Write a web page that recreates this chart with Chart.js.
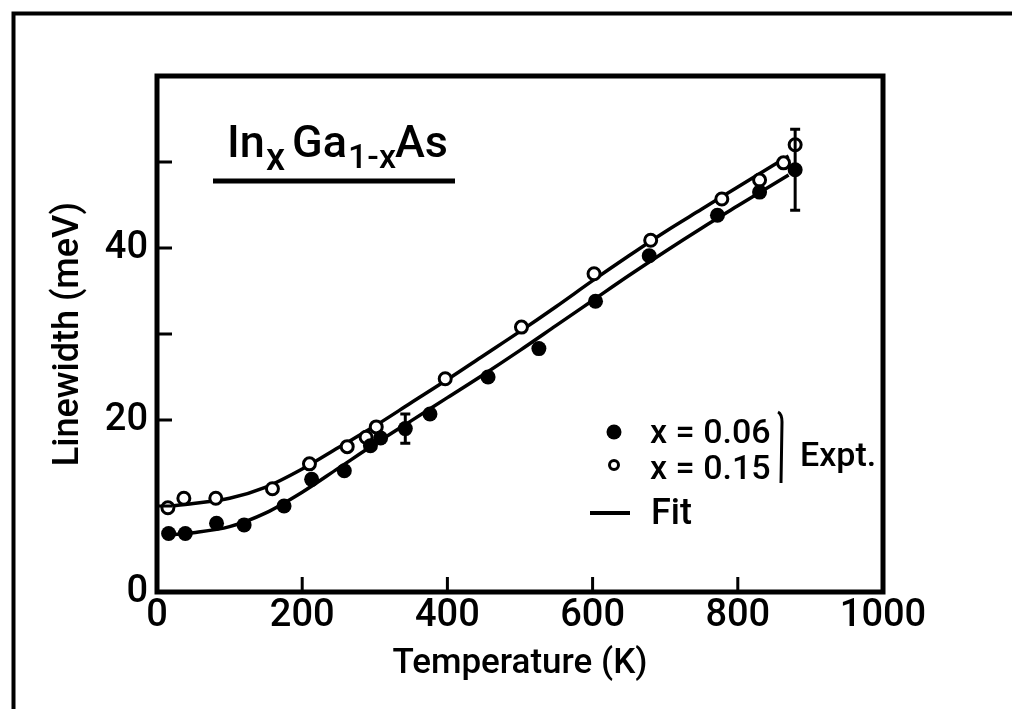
<!DOCTYPE html>
<html>
<head>
<meta charset="utf-8">
<script src="https://cdn.jsdelivr.net/npm/chart.js@4.4.1/dist/chart.umd.min.js"></script>
<style>
  html, body { margin: 0; padding: 0; background: #fff; }
  canvas { display: block; }
</style>
</head>
<body>
<canvas id="linewidth" width="1012" height="709"></canvas>
<script>
const FONT = 'Roboto, "Liberation Sans", sans-serif';

// measured linewidth, x = 0.06 (filled circles)
const tempLow = [16, 39, 82, 120, 175, 213, 258, 294, 308, 342, 376, 456, 526, 604, 678, 772, 830, 879];
const widthLow = [6.8, 6.8, 8.0, 7.8, 10.0, 13.1, 14.1, 17.0, 17.9, 19.0, 20.7, 25.0, 28.3, 33.8, 39.1, 43.8, 46.5, 49.1];

// measured linewidth, x = 0.15 (open circles)
const tempHigh = [15, 37, 81, 159, 210, 262, 288, 302, 397, 502, 602, 680, 778, 830, 863, 879];
const widthHigh = [9.8, 10.9, 10.9, 12.0, 14.9, 16.9, 18.0, 19.2, 24.8, 30.8, 37.0, 40.9, 45.7, 47.9, 49.9, 52.0];

// fitted curves
const fitTemp = [10, 50, 100, 150, 200, 250, 300, 350, 400, 450, 500, 550, 600, 650, 700, 750, 800, 870];
const fitLow = [6.6, 6.9, 7.6, 9.2, 11.6, 14.4, 17.2, 19.9, 22.6, 25.3, 28.1, 31.0, 33.9, 36.8, 39.6, 42.3, 44.9, 48.5];
const fitHigh = [9.9, 10.3, 10.9, 12.2, 14.3, 16.8, 19.3, 22.0, 24.7, 27.5, 30.3, 33.2, 36.2, 39.1, 41.9, 44.5, 47.1, 50.7];

// error bars on two of the x = 0.06 points
const errTemp = [342, 879];
const errLow = [17.3, 44.4];
const errHigh = [20.7, 53.8];

// axis labels
const xLabels = [0, 200, 400, 600, 800, 1000];
const yLabels = [0, 20, 40];

const pts = (xs, ys) => xs.map((t, i) => ({ x: t, y: ys[i] }));

function font(size) {
  return '500 ' + size + 'px ' + FONT;
}

const decorations = {
  id: 'decorations',
  afterDatasetsDraw(chart) {
    const { ctx, chartArea: a, scales: { x, y } } = chart;
    ctx.save();
    ctx.strokeStyle = '#000';
    ctx.lineCap = 'butt';

    // error bars
    ctx.lineWidth = 3;
    errTemp.forEach((t, i) => {
      const px = x.getPixelForValue(t);
      const lo = y.getPixelForValue(errLow[i]);
      const hi = y.getPixelForValue(errHigh[i]);
      ctx.beginPath();
      ctx.moveTo(px, lo); ctx.lineTo(px, hi);
      ctx.moveTo(px - 5, lo); ctx.lineTo(px + 5, lo);
      ctx.moveTo(px - 5, hi); ctx.lineTo(px + 5, hi);
      ctx.stroke();
    });

    // inward tick marks
    ctx.lineWidth = 3;
    ctx.beginPath();
    x.ticks.forEach(t => {
      if (t.value <= x.min || t.value >= x.max) return;
      const px = x.getPixelForValue(t.value);
      ctx.moveTo(px, a.bottom); ctx.lineTo(px, a.bottom - 15);
    });
    y.ticks.forEach(t => {
      if (t.value <= y.min || t.value >= y.max) return;
      const py = y.getPixelForValue(t.value);
      ctx.moveTo(a.left, py); ctx.lineTo(a.left + 15, py);
    });
    ctx.stroke();

    // plot box
    ctx.lineWidth = 5;
    ctx.strokeRect(a.left, a.top, a.right - a.left, a.bottom - a.top);
    ctx.restore();
  },
  afterDraw(chart) {
    const { ctx } = chart;
    ctx.save();
    ctx.fillStyle = '#000';
    ctx.strokeStyle = '#000';
    ctx.textBaseline = 'alphabetic';
    ctx.textAlign = 'left';

    // outer frame (top and left edges)
    ctx.lineWidth = 4;
    ctx.beginPath();
    ctx.moveTo(1012, 13.5); ctx.lineTo(13.5, 13.5); ctx.lineTo(13.5, 709);
    ctx.stroke();

    // compound name with subscripts
    const parts = [
      { text: 'In', x: 227, base: 157, size: 45 },
      { text: 'x', x: 266, base: 170, size: 38 },
      { text: 'Ga', x: 292, base: 157, size: 45 },
      { text: '1-x', x: 348, base: 168, size: 34 },
      { text: 'As', x: 395, base: 157, size: 45 }
    ];
    parts.forEach(p => {
      ctx.font = font(p.size);
      ctx.fillText(p.text, p.x, p.base);
    });
    ctx.lineWidth = 5;
    ctx.beginPath();
    ctx.moveTo(213, 181); ctx.lineTo(455, 181);
    ctx.stroke();

    // legend
    ctx.beginPath();
    ctx.arc(614, 432, 7.5, 0, Math.PI * 2);
    ctx.fill();
    ctx.lineWidth = 3;
    ctx.beginPath();
    ctx.arc(614, 465, 4.5, 0, Math.PI * 2);
    ctx.stroke();
    ctx.lineWidth = 4;
    ctx.beginPath();
    ctx.moveTo(590, 513); ctx.lineTo(630, 513);
    ctx.stroke();

    ctx.font = font(34);
    ctx.fillText('x = 0.06', 650, 443);
    ctx.fillText('x = 0.15', 650, 479);
    ctx.font = font(36);
    ctx.fillText('Fit', 651, 524);

    ctx.lineWidth = 3;
    ctx.beginPath();
    ctx.moveTo(778, 412);
    ctx.quadraticCurveTo(782, 414, 782, 422);
    ctx.lineTo(781, 483);
    ctx.stroke();
    ctx.font = font(34);
    ctx.fillText('Expt.', 800, 466);

    ctx.restore();
  }
};

new Chart(document.getElementById('linewidth'), {
  type: 'scatter',
  data: {
    datasets: [
      {
        label: 'x = 0.06',
        data: pts(tempLow, widthLow),
        pointRadius: 7.5,
        pointBackgroundColor: '#000',
        pointBorderColor: '#000',
        pointBorderWidth: 0,
        order: 0
      },
      {
        label: 'x = 0.15',
        data: pts(tempHigh, widthHigh),
        pointRadius: 6,
        pointBackgroundColor: '#fff',
        pointBorderColor: '#000',
        pointBorderWidth: 3,
        order: 0
      },
      {
        label: 'Fit x = 0.06',
        data: pts(fitTemp, fitLow),
        showLine: true,
        borderColor: '#000',
        borderWidth: 3.5,
        pointRadius: 0,
        cubicInterpolationMode: 'monotone',
        order: 1
      },
      {
        label: 'Fit x = 0.15',
        data: pts(fitTemp, fitHigh),
        showLine: true,
        borderColor: '#000',
        borderWidth: 3.5,
        pointRadius: 0,
        cubicInterpolationMode: 'monotone',
        order: 1
      }
    ]
  },
  options: {
    responsive: false,
    animation: false,
    events: [],
    layout: { padding: { top: 76, right: 129, left: 0, bottom: 0 } },
    scales: {
      x: {
        type: 'linear',
        min: 0,
        max: 1000,
        afterFit: s => { s.height = 117; },
        border: { display: false },
        grid: { display: false, drawTicks: false },
        ticks: {
          stepSize: 200,
          autoSkip: false,
          maxRotation: 0,
          padding: 5,
          color: '#000',
          font: { family: FONT, size: 38, weight: '500', lineHeight: 1 },
          callback: v => xLabels.includes(v) ? String(v) : ''
        },
        title: {
          display: true,
          text: 'Temperature (K)',
          color: '#000',
          font: { family: FONT, size: 35, weight: '500', lineHeight: 1 },
          padding: { top: 0, bottom: 27 }
        }
      },
      y: {
        type: 'linear',
        min: 0,
        max: 60,
        afterFit: s => { s.width = 157; },
        border: { display: false },
        grid: { display: false, drawTicks: false },
        ticks: {
          stepSize: 10,
          autoSkip: false,
          padding: 9,
          color: '#000',
          font: { family: FONT, size: 38, weight: '500', lineHeight: 1 },
          callback: v => yLabels.includes(v) ? String(v) : ''
        },
        title: {
          display: true,
          text: 'Linewidth (meV)',
          color: '#000',
          font: { family: FONT, size: 36, weight: '500', lineHeight: 1 },
          padding: { top: 51, bottom: 0 }
        }
      }
    },
    plugins: {
      legend: { display: false },
      tooltip: { enabled: false }
    }
  },
  plugins: [decorations]
});
</script>
</body>
</html>
